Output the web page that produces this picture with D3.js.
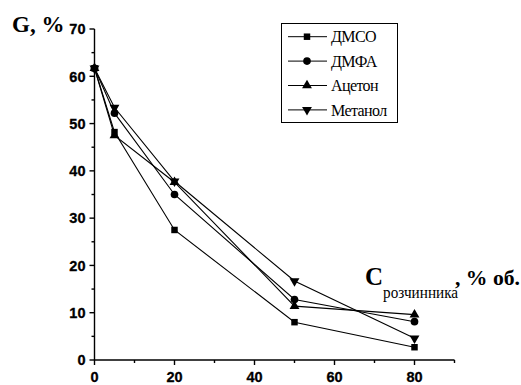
<!DOCTYPE html>
<html>
<head>
<meta charset="utf-8">
<script src="https://cdn.jsdelivr.net/npm/d3@7"></script>
<style>
  body { margin: 0; background: #fff; }
  svg { display: block; }
</style>
</head>
<body>
<div id="chart"></div>
<script>
const xValues = [0, 5, 20, 50, 80];
const seriesNames = ['ДМСО', 'ДМФА', 'Ацетон', 'Метанол'];
const seriesSymbols = ['square', 'circle', 'triangleUp', 'triangleDown'];
const dmso = [61.7, 48.2, 27.5, 8.0, 2.7];
const dmfa = [61.7, 52.2, 35.0, 12.8, 8.1];
const aceton = [61.7, 47.5, 37.6, 11.4, 9.6];
const metanol = [61.7, 53.4, 37.8, 16.7, 4.6];
const seriesValues = [dmso, dmfa, aceton, metanol];
const xTicks = [0, 20, 40, 60, 80];
const yTicks = [0, 10, 20, 30, 40, 50, 60, 70];

const width = 521, height = 385;
const svg = d3.select('#chart').append('svg').attr('width', width).attr('height', height);

const x = d3.scaleLinear().domain([0, 90]).range([94.5, 454.5]);
const y = d3.scaleLinear().domain([0, 70]).range([360, 29]);

// axes
const xAxis = svg.append('g').attr('transform', `translate(0,${y(0)})`);
xAxis.append('line').attr('x1', x(0)).attr('x2', x(90)).attr('stroke', '#000').attr('stroke-width', 1.4);
d3.range(0, 91, 10).forEach((v) => {
  xAxis.append('line').attr('x1', x(v)).attr('x2', x(v)).attr('y1', 0).attr('y2', v % 20 === 0 ? 5 : 3)
    .attr('stroke', '#000').attr('stroke-width', 1.4);
});
xTicks.forEach((v) => {
  xAxis.append('text').attr('x', x(v)).attr('y', 22).attr('text-anchor', 'middle')
    .attr('font-family', 'Liberation Sans, Arial').attr('font-weight', 'bold').attr('font-size', 14.5)
    .attr('stroke', '#000').attr('stroke-width', 0.3)
    .text(v);
});

const yAxis = svg.append('g').attr('transform', `translate(${x(0)},0)`);
yAxis.append('line').attr('y1', y(0)).attr('y2', y(70)).attr('stroke', '#000').attr('stroke-width', 1.4);
d3.range(0, 71, 5).forEach((v) => {
  yAxis.append('line').attr('y1', y(v)).attr('y2', y(v)).attr('x1', 0).attr('x2', v % 10 === 0 ? -5 : -3)
    .attr('stroke', '#000').attr('stroke-width', 1.4);
});
yTicks.forEach((v) => {
  yAxis.append('text').attr('x', -9).attr('y', y(v)).attr('dy', '0.36em').attr('text-anchor', 'end')
    .attr('font-family', 'Liberation Sans, Arial').attr('font-weight', 'bold').attr('font-size', 14.5)
    .attr('stroke', '#000').attr('stroke-width', 0.3)
    .text(v);
});

// axis titles
svg.append('text').attr('x', 12).attr('y', 32)
  .attr('font-family', 'Liberation Serif, Times New Roman').attr('font-weight', 'bold').attr('font-size', 23)
  .text('G, %');

const xt = svg.append('text').attr('x', 365).attr('y', 284.5)
  .attr('font-family', 'Liberation Serif, Times New Roman').attr('font-weight', 'bold');
xt.append('tspan').attr('font-size', 25).text('C');
xt.append('tspan').attr('font-size', 17).attr('font-weight', 'normal').attr('dy', 13.5)
  .attr('textLength', 75).attr('lengthAdjust', 'spacingAndGlyphs').text('розчинника');
xt.append('tspan').attr('font-size', 22).attr('dy', -13.5).attr('x', 455)
  .attr('textLength', 65).attr('lengthAdjust', 'spacingAndGlyphs').text(', % об.');

// markers
const symbolFor = {
  square: d3.symbol().type(d3.symbolSquare).size(42),
  circle: d3.symbol().type(d3.symbolCircle).size(46),
  triangleUp: d3.symbol().type(d3.symbolTriangle).size(42),
  triangleDown: d3.symbol().type(d3.symbolTriangle).size(42),
};
function drawSymbol(g, kind, px, py) {
  g.append('path').attr('d', symbolFor[kind]())
    .attr('transform', `translate(${px},${py})` + (kind === 'triangleDown' ? ' rotate(180)' : ''))
    .attr('fill', '#000');
}

const line = d3.line().x((d) => x(d[0])).y((d) => y(d[1]));
seriesValues.forEach((vals, i) => {
  const pts = xValues.map((xv, j) => [xv, vals[j]]);
  svg.append('path').datum(pts).attr('d', line).attr('fill', 'none').attr('stroke', '#000').attr('stroke-width', 1.1);
  const g = svg.append('g');
  pts.forEach((p) => drawSymbol(g, seriesSymbols[i], x(p[0]), y(p[1])));
});

// legend
const legend = svg.append('g');
legend.append('rect').attr('x', 281.5).attr('y', 23.5).attr('width', 116).attr('height', 99)
  .attr('fill', '#fff').attr('stroke', '#000').attr('stroke-width', 1);
seriesNames.forEach((name, i) => {
  const ly = 36.7 + i * 24.4;
  legend.append('line').attr('x1', 288).attr('x2', 327).attr('y1', ly).attr('y2', ly)
    .attr('stroke', '#000').attr('stroke-width', 1);
  drawSymbol(legend, seriesSymbols[i], 307, ly);
  legend.append('text').attr('x', 331).attr('y', ly).attr('dy', '0.35em')
    .attr('font-family', 'Liberation Serif, Times New Roman').attr('font-size', 16)
    .attr('letter-spacing', -0.6).text(name);
});
</script>
</body>
</html>
